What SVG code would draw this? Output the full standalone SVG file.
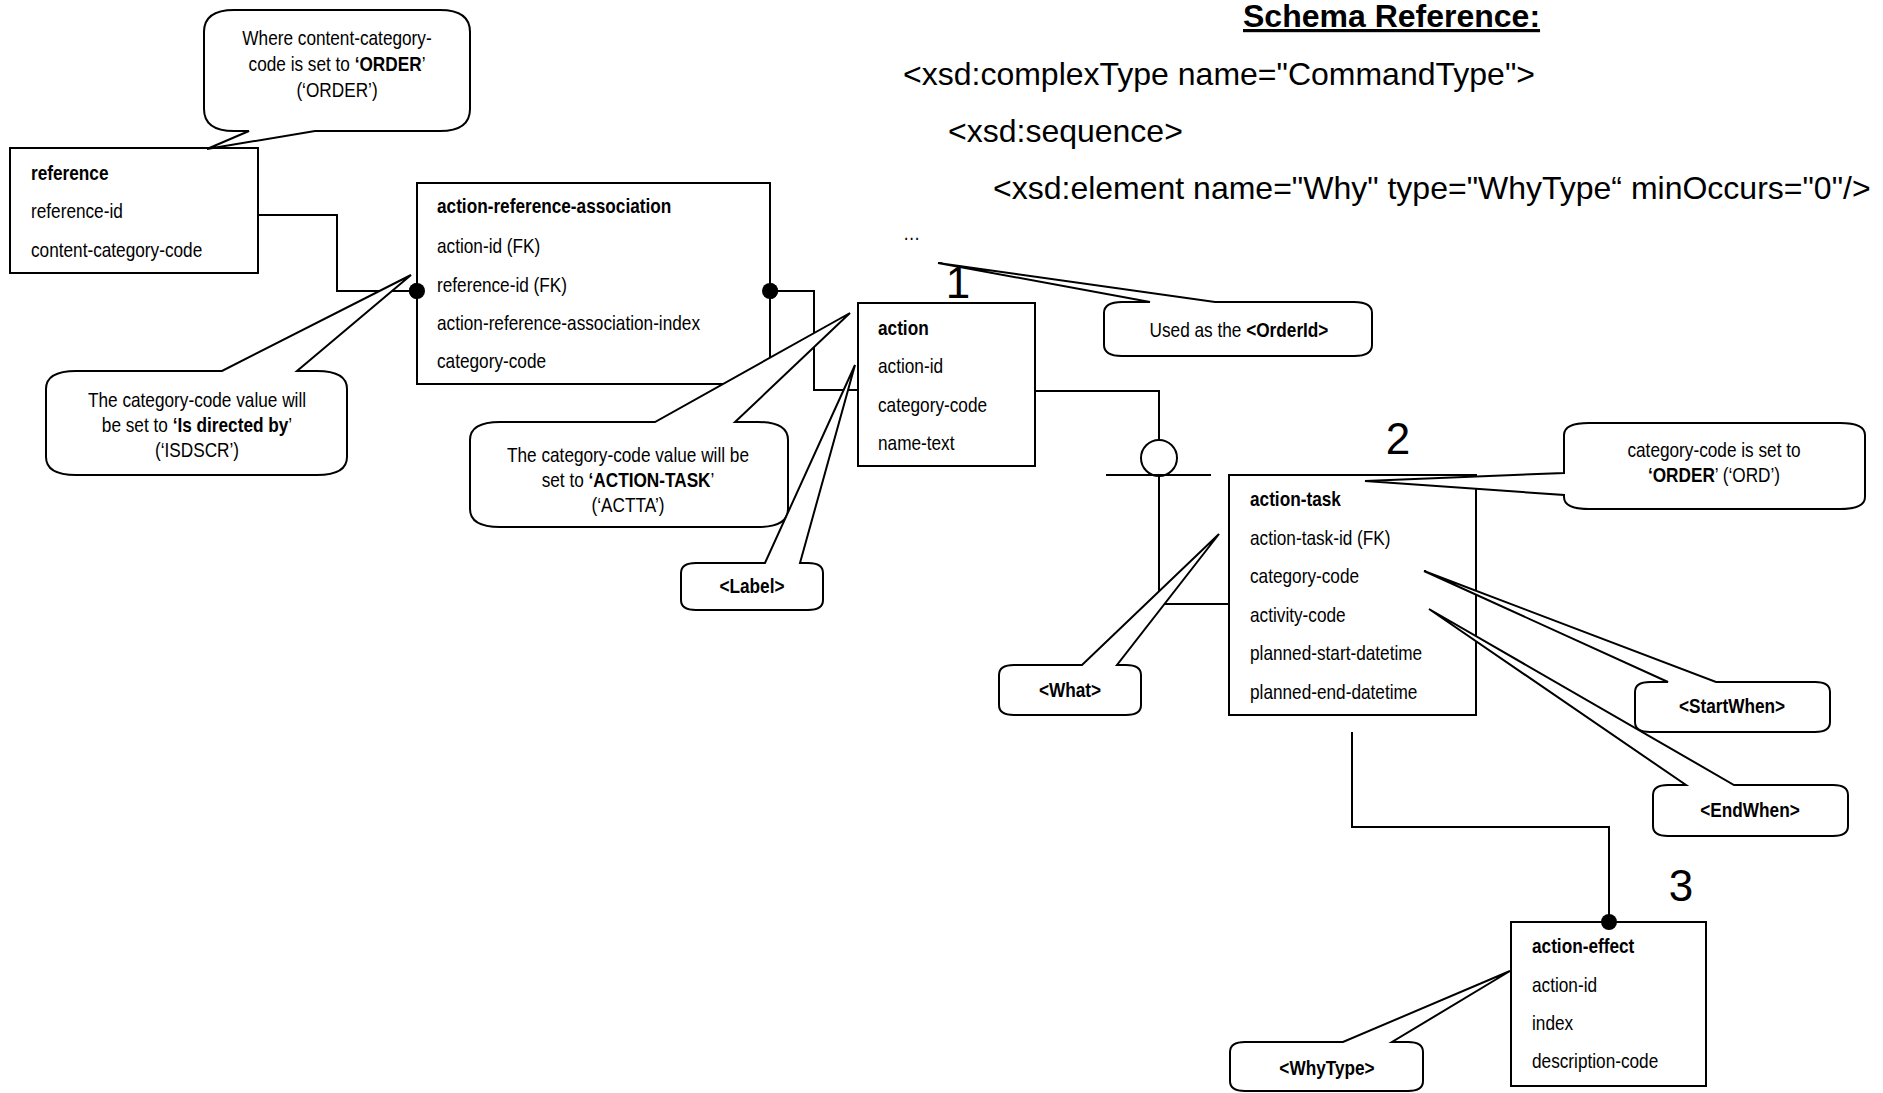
<svg xmlns="http://www.w3.org/2000/svg" width="1883" height="1093" viewBox="0 0 1883 1093">
<style>
.box{fill:#fff;stroke:#000;stroke-width:2}
.call{fill:#fff;stroke:#000;stroke-width:2;stroke-linejoin:miter}
.conn{fill:none;stroke:#000;stroke-width:2}
.dot{fill:#000}
.t{font-family:"Liberation Sans",Arial,sans-serif;font-size:21px;fill:#000}
.b{font-weight:bold}
.c{text-anchor:middle}
.s{font-family:"Liberation Sans",Arial,sans-serif;font-size:32px;fill:#000}
.num{font-family:"Liberation Sans",Arial,sans-serif;font-size:44px;text-anchor:middle;fill:#000}
</style>
<rect width="1883" height="1093" fill="#fff"/>

<g id="schema">
<text class="s b" x="1243" y="27" text-decoration="underline">Schema Reference:</text>
<text class="s" x="903" y="85">&lt;xsd:complexType name="CommandType"&gt;</text>
<text class="s" x="948" y="142">&lt;xsd:sequence&gt;</text>
<text class="s" x="993" y="199">&lt;xsd:element name="Why" type="WhyType“ minOccurs="0"/&gt;</text>
<g transform="translate(903,0) scale(0.82,1)"><text class="t" x="0" y="240">…</text></g>
</g>

<g id="numbers">
<text class="num" x="958" y="298">1</text>
<text class="num" x="1398" y="454">2</text>
<text class="num" x="1681" y="901">3</text>
</g>

<g id="connectors">
<path class="conn" d="M258,215 H337 V291 H417"/>
<circle class="dot" cx="417" cy="291" r="8"/>
<path class="conn" d="M770,291 H814 V390 H858"/>
<circle class="dot" cx="770" cy="291" r="8"/>
<path class="conn" d="M1035,391 H1159 V440"/>
<circle cx="1159" cy="458" r="18" fill="#fff" stroke="#000" stroke-width="2"/>
<path class="conn" d="M1106,475 H1211 M1159,476 V604 H1229"/>
<path class="conn" d="M1352,732 V827 H1609 V922"/>
</g>

<g id="reference">
<rect class="box" x="10" y="148" width="248" height="125"/>
<g transform="translate(31,0) scale(0.82,1)">
<text class="t b" x="0" y="180">reference</text>
<text class="t" x="0" y="218">reference-id</text>
<text class="t" x="0" y="257">content-category-code</text>
</g>
</g>

<g id="action-reference-association">
<rect class="box" x="417" y="183" width="353" height="201"/>
<circle class="dot" cx="417" cy="291" r="8"/>
<circle class="dot" cx="770" cy="291" r="8"/>
<g transform="translate(437,0) scale(0.82,1)">
<text class="t b" x="0" y="213">action-reference-association</text>
<text class="t" x="0" y="253">action-id (FK)</text>
<text class="t" x="0" y="292">reference-id (FK)</text>
<text class="t" x="0" y="330">action-reference-association-index</text>
<text class="t" x="0" y="368">category-code</text>
</g>
</g>

<g id="action">
<rect class="box" x="858" y="303" width="177" height="163"/>
<g transform="translate(878,0) scale(0.82,1)">
<text class="t b" x="0" y="335">action</text>
<text class="t" x="0" y="373">action-id</text>
<text class="t" x="0" y="412">category-code</text>
<text class="t" x="0" y="450">name-text</text>
</g>
</g>

<g id="action-task">
<rect class="box" x="1229" y="475" width="247" height="240"/>
<g transform="translate(1250,0) scale(0.82,1)">
<text class="t b" x="0" y="506">action-task</text>
<text class="t" x="0" y="545">action-task-id (FK)</text>
<text class="t" x="0" y="583">category-code</text>
<text class="t" x="0" y="622">activity-code</text>
<text class="t" x="0" y="660">planned-start-datetime</text>
<text class="t" x="0" y="699">planned-end-datetime</text>
</g>
</g>

<g id="action-effect">
<rect class="box" x="1511" y="922" width="195" height="164"/>
<circle class="dot" cx="1609" cy="922" r="8"/>
<g transform="translate(1532,0) scale(0.82,1)">
<text class="t b" x="0" y="953">action-effect</text>
<text class="t" x="0" y="992">action-id</text>
<text class="t" x="0" y="1030">index</text>
<text class="t" x="0" y="1068">description-code</text>
</g>
</g>

<g id="note-where">
<path class="call" d="M204,32 Q204,10 234,10 L440,10 Q470,10 470,32 L470,109 Q470,131 440,131 L315,131 L207,149 L249,131 L234,131 Q204,131 204,109 Z"/>
<g transform="translate(337,0) scale(0.82,1)">
<text class="t c" x="0" y="45">Where content-category-</text>
<text class="t c" x="0" y="71">code is set to <tspan class="b">‘ORDER</tspan>’</text>
<text class="t c" x="0" y="97">(‘ORDER’)</text>
</g>
</g>

<g id="note-isdirected">
<path class="call" d="M46,389 Q46,371 76,371 L222,371 L411,275 L297,371 L317,371 Q347,371 347,389 L347,457 Q347,475 317,475 L76,475 Q46,475 46,457 Z"/>
<g transform="translate(197,0) scale(0.82,1)">
<text class="t c" x="0" y="407">The category-code value will</text>
<text class="t c" x="0" y="432">be set to <tspan class="b">‘Is directed by</tspan>’</text>
<text class="t c" x="0" y="457">(‘ISDSCR’)</text>
</g>
</g>

<g id="note-actiontask">
<path class="call" d="M470,440 Q470,422 500,422 L655,422 L850,313 L735,422 L758,422 Q788,422 788,440 L788,509 Q788,527 758,527 L500,527 Q470,527 470,509 Z"/>
<g transform="translate(628,0) scale(0.82,1)">
<text class="t c" x="0" y="462">The category-code value will be</text>
<text class="t c" x="0" y="487">set to <tspan class="b">‘ACTION-TASK</tspan>’</text>
<text class="t c" x="0" y="512">(‘ACTTA’)</text>
</g>
</g>

<g id="note-label">
<path class="call" d="M681,573 Q681,563 696,563 L765,563 L855,365 L800,563 L808,563 Q823,563 823,573 L823,600 Q823,610 808,610 L696,610 Q681,610 681,600 Z"/>
<g transform="translate(752,0) scale(0.82,1)"><text class="t c b" x="0" y="593">&lt;Label&gt;</text></g>
</g>

<g id="note-orderid">
<path class="call" d="M1104,313 Q1104,302 1122,302 L1150,302 L938,263 L1215,302 L1354,302 Q1372,302 1372,313 L1372,345 Q1372,356 1354,356 L1122,356 Q1104,356 1104,345 Z"/>
<g transform="translate(1239,0) scale(0.82,1)"><text class="t c" x="0" y="337">Used as the <tspan class="b">&lt;OrderId&gt;</tspan></text></g>
</g>

<g id="note-category">
<path class="call" d="M1564,435 Q1564,423 1589,423 L1840,423 Q1865,423 1865,435 L1865,497 Q1865,509 1840,509 L1589,509 Q1564,509 1564,497 L1564,495 L1365,481 L1564,473 Z"/>
<g transform="translate(1714,0) scale(0.82,1)">
<text class="t c" x="0" y="457">category-code is set to</text>
<text class="t c" x="0" y="482"><tspan class="b">‘ORDER</tspan>’ (‘ORD’)</text>
</g>
</g>

<g id="note-what">
<path class="call" d="M999,675 Q999,665 1014,665 L1082,665 L1219,534 L1117,665 L1126,665 Q1141,665 1141,675 L1141,705 Q1141,715 1126,715 L1014,715 Q999,715 999,705 Z"/>
<g transform="translate(1070,0) scale(0.82,1)"><text class="t c b" x="0" y="697">&lt;What&gt;</text></g>
</g>

<g id="note-startwhen">
<path class="call" d="M1635,692 Q1635,682 1650,682 L1668,682 L1424,571 L1716,682 L1815,682 Q1830,682 1830,692 L1830,722 Q1830,732 1815,732 L1650,732 Q1635,732 1635,722 Z"/>
<g transform="translate(1732,0) scale(0.82,1)"><text class="t c b" x="0" y="713">&lt;StartWhen&gt;</text></g>
</g>

<g id="note-endwhen">
<path class="call" d="M1653,795 Q1653,785 1668,785 L1686,785 L1429,609 L1734,785 L1833,785 Q1848,785 1848,795 L1848,826 Q1848,836 1833,836 L1668,836 Q1653,836 1653,826 Z"/>
<g transform="translate(1750,0) scale(0.82,1)"><text class="t c b" x="0" y="817">&lt;EndWhen&gt;</text></g>
</g>

<g id="note-whytype">
<path class="call" d="M1230,1052 Q1230,1042 1245,1042 L1343,1042 L1510,971 L1392,1042 L1408,1042 Q1423,1042 1423,1052 L1423,1081 Q1423,1091 1408,1091 L1245,1091 Q1230,1091 1230,1081 Z"/>
<g transform="translate(1327,0) scale(0.82,1)"><text class="t c b" x="0" y="1075">&lt;WhyType&gt;</text></g>
</g>
</svg>
